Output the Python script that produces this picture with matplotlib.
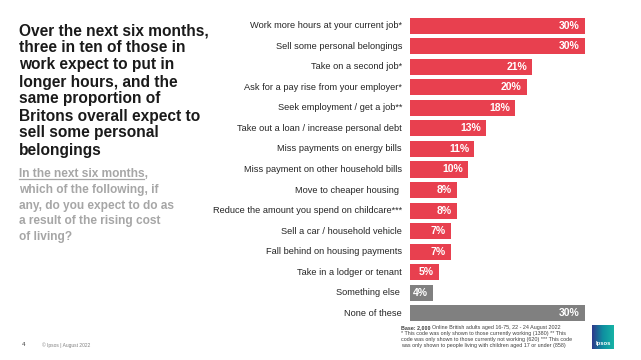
import numpy as np
import matplotlib
matplotlib.use("Agg")
import matplotlib.pyplot as plt
from matplotlib.lines import Line2D

# dados do grafico
categories = [
    "Work more hours at your current job*",
    "Sell some personal belongings",
    "Take on a second job*",
    "Ask for a pay rise from your employer*",
    "Seek employment / get a job**",
    "Take out a loan / increase personal debt",
    "Miss payments on energy bills",
    "Miss payment on other household bills",
    "Move to cheaper housing ",
    "Reduce the amount you spend on childcare***",
    "Sell a car / household vehicle",
    "Fall behind on housing payments",
    "Take in a lodger or tenant",
    "Something else ",
    "None of these",
]
values = [30, 30, 21, 20, 18, 13, 11, 10, 8, 8, 7, 7, 5, 4, 30]
is_other = [False] * 13 + [True, True]

title_lines = [
    "Over the next six months,",
    "three in ten of those in",
    "work expect to put in",
    "longer hours, and the",
    "same proportion of",
    "Britons overall expect to",
    "sell some personal",
    "belongings",
]
question_lines = [
    "In the next six months,",
    "which of the following, if",
    "any, do you expect to do as",
    "a result of the rising cost",
    "of living?",
]
footnote_lines = [
    "* This code was only shown to those currently working (1380) ** This",
    "code was only shown to those currently not working (620) *** This code",
    "was only shown to people living with children aged 17 or under (858)",
]

RED = "#E8404F"
GREY = "#808080"
W, H = 641, 360

plt.rcParams["font.family"] = ["Liberation Sans", "DejaVu Sans"]
fig = plt.figure(figsize=(W / 100, H / 100), dpi=100)
fig.patch.set_facecolor("white")

def fx(px):
    return px / W

def fy(py):
    return 1 - py / H

# barras
ax = fig.add_axes([fx(410), fy(323.5), fx(190), (323.5 - 15.5) / H])
y = np.arange(len(values))
colors = [GREY if o else RED for o in is_other]
ax.barh(y, values, height=0.78, color=colors)
ax.set_xlim(0, 190 / 5.83)
ax.set_ylim(len(values) - 0.5, -0.5)
ax.axis("off")
for i, (cat, v) in enumerate(zip(categories, values)):
    ax.annotate(cat, (0, i), xytext=(-8, 0), textcoords="offset pixels",
                ha="right", va="center", fontsize=6.7, color="#262626")
    ax.annotate(f"{v}%", (v, i), xytext=(-5, 0), textcoords="offset pixels",
                ha="right", va="center", fontsize=7.5, color="white",
                fontweight="bold")

# titulo
for k, line in enumerate(title_lines):
    fig.text(fx(19), fy(31 + 17 * k), line, fontsize=11.2, fontweight="bold",
             color="#1a1a1a", va="center", ha="left")

# pergunta (cinza)
q_texts = []
for k, line in enumerate(question_lines):
    t = fig.text(fx(19), fy(174 + 15.8 * k), line, fontsize=8.6,
                 fontweight="bold", color="#A6A6A6", va="center", ha="left")
    q_texts.append(t)

# sublinhado da primeira linha (sem a virgula)
fig.canvas.draw()
renderer = fig.canvas.get_renderer()
bb = q_texts[0].get_window_extent(renderer)
txt_w = bb.width - renderer.points_to_pixels(8.6) * 0.3
fig.add_artist(Line2D([fx(19), fx(19 + txt_w)], [fy(179.3), fy(179.3)],
                      color="#A6A6A6", lw=0.9, transform=fig.transFigure))

# rodape
fig.text(fx(22), fy(345), "4", fontsize=4.5, color="#404040", va="center")
fig.text(fx(42), fy(345), "\u00a9 Ipsos | August 2022", fontsize=3.5,
         color="#808080", va="center")

fs_note = 3.9
base = fig.text(fx(401), fy(327.5), "Base: 2,000 ", fontsize=fs_note,
                fontweight="bold", color="#404040", va="center")
fig.canvas.draw()
bx = base.get_window_extent(renderer)
fig.text(bx.x1 / W, fy(327.5), "Online British adults aged 16-75, 22 - 24 August 2022",
         fontsize=fs_note, color="#404040", va="center")
for k, line in enumerate(footnote_lines):
    fig.text(fx(401), fy(333.5 + 6 * k), line, fontsize=fs_note, color="#404040",
             va="center")

# logo ipsos
lax = fig.add_axes([fx(592), fy(349), fx(22), 24 / H])
grad = np.linspace(0, 1, 50)[None, :] * np.ones((50, 1))
cmap = matplotlib.colors.LinearSegmentedColormap.from_list("ips", ["#2E3A8C", "#0F8FA0", "#16B3A5"])
lax.imshow(grad, cmap=cmap, aspect="auto", extent=(0, 1, 0, 1))
lax.text(0.5, 0.25, "Ipsos", color="white", fontsize=4.2, fontweight="bold",
         ha="center", va="center")
lax.axis("off")

fig.savefig("out.png", dpi=100, facecolor="white")
